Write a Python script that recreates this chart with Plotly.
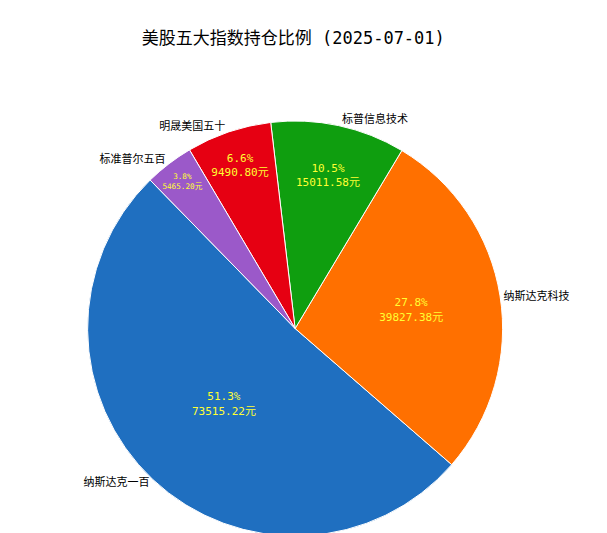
import plotly.graph_objects as go

labels = ["纳斯达克一百", "纳斯达克科技", "标普信息技术", "明晟美国五十", "标准普尔五百"]
values = [73515.22, 39827.38, 15011.58, 9490.80, 5465.20]
colors = ["#1f6fc0", "#ff7000", "#0f9e0f", "#e60012", "#9b59c9"]

font = "DejaVu Sans Mono, Noto Sans CJK SC"
inner_text = [f"{v / sum(values) * 100:.1f}%<br>{v:.2f}元" for v in values]
domain = dict(x=[0.128, 0.818], y=[0.0, 0.786])
start = 131

fig = go.Figure()
# slices with value text inside
fig.add_trace(go.Pie(
    labels=labels, values=values, sort=False, direction="counterclockwise",
    rotation=start, domain=domain,
    marker=dict(colors=colors, line=dict(color="white", width=1)),
    text=inner_text, textinfo="text", textposition="inside",
    insidetextorientation="horizontal",
    textfont=dict(color="#ffff33", size=11, family=font),
    showlegend=False, hoverinfo="label+value",
))
# transparent copy for the outside labels
fig.add_trace(go.Pie(
    labels=labels, values=values, sort=False, direction="counterclockwise",
    rotation=start, domain=domain,
    marker=dict(colors=["rgba(0,0,0,0)"] * 5),
    textinfo="label", textposition="outside",
    textfont=dict(color="black", size=11, family=font),
    showlegend=False, hoverinfo="skip",
))
fig.update_layout(
    width=607, height=533, margin=dict(l=0, r=0, t=0, b=0),
    paper_bgcolor="white",
    title=dict(text="美股五大指数持仓比例 (2025-07-01)", x=0.47, y=0.955,
               xanchor="center", font=dict(size=17, family=font, color="black")),
)
fig.write_html("out.html")
